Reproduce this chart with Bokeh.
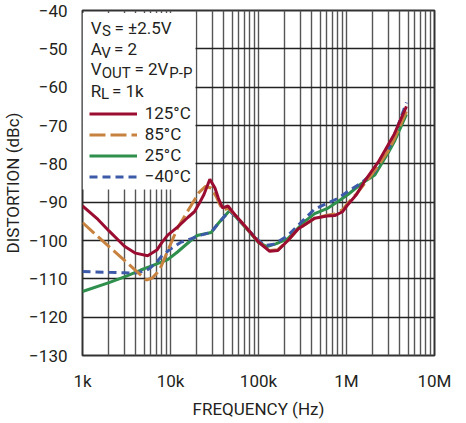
from bokeh.plotting import figure
from bokeh.models import FixedTicker, Legend, LegendItem, Label, CustomJSTickFormatter
from bokeh.embed import file_html
from bokeh.resources import INLINE

# ---------------- data ----------------
f_125 = [1e3, 1.5e3, 2e3, 3e3, 4e3, 5.5e3, 7e3, 8e3, 9.3e3, 12e3, 15.7e3, 18.7e3, 21e3, 24e3,
         28e3, 32e3, 35e3, 39e3, 45e3, 55e3, 75e3, 100e3, 134e3, 166e3, 216e3, 282e3, 435e3,
         600e3, 735e3, 900e3, 1.04e6, 1.3e6, 1.6e6, 2.3e6, 3.5e6, 4.8e6]
d_125 = [-91, -94.5, -97.5, -101.5, -103.3, -104, -102.5, -100.5, -98.6, -96.5, -94, -92.5, -90.5,
         -88, -84, -86.3, -89, -91.5, -91, -93.5, -97, -100.4, -102.8, -102.6, -100, -97, -94.2,
         -93.6, -93.5, -92.5, -90.6, -88, -84.6, -79.5, -72.2, -65]

f_85 = [1e3, 1.5e3, 2e3, 3e3, 4e3, 5.3e3, 6.2e3, 7e3, 7.8e3, 9.7e3, 12.1e3, 17e3, 21e3, 25e3,
        29e3, 33e3, 37e3, 41e3, 45e3, 55e3, 75e3, 100e3, 134e3, 166e3, 216e3, 282e3, 435e3,
        600e3, 735e3, 900e3, 1.04e6, 1.3e6, 1.6e6, 2.3e6, 3e6, 3.5e6, 4.8e6]
d_85 = [-95.3, -99, -101.6, -105.2, -107.8, -110.3, -109.8, -108.5, -106.8, -101.7, -96.6, -91,
        -87.5, -85.9, -86.3, -88.5, -91, -92, -91.5, -93.5, -97, -100.4, -102.6, -102.4, -100,
        -97, -94.2, -93.4, -93.1, -92, -90.2, -87.8, -85.2, -80.5, -76.5, -73.5, -66.3]

f_25 = [1e3, 2e3, 3e3, 4.6e3, 6e3, 9.3e3, 12e3, 17e3, 20e3, 29e3, 35e3, 40e3, 47e3, 55e3, 75e3,
        100e3, 125e3, 160e3, 216e3, 335e3, 435e3, 600e3, 800e3, 1.04e6, 1.47e6, 2.1e6, 3e6,
        3.5e6, 4.8e6]
d_25 = [-113.3, -111, -109.5, -107.7, -106.7, -105, -103, -100, -98.7, -97.9, -95.5, -94, -92.2,
        -93.8, -97.2, -100.5, -101.6, -100.8, -99.5, -95, -93, -91.7, -89.8, -88, -85.2, -82.9,
        -77, -74.2, -67.1]

f_m40 = [1e3, 2e3, 3e3, 4e3, 5e3, 5.8e3, 6.85e3, 8e3, 10e3, 13e3, 17e3, 22e3, 29e3, 35e3, 40e3,
         47e3, 55e3, 75e3, 100e3, 120e3, 150e3, 216e3, 335e3, 435e3, 600e3, 800e3, 1.04e6,
         1.47e6, 2.1e6, 3e6, 3.5e6, 4.8e6]
d_m40 = [-108.1, -108.3, -108.4, -108.5, -108.0, -107.3, -105.8, -104, -102.2, -100.5, -99.6,
         -98.6, -97.9, -95.5, -94, -92.2, -93.8, -97, -100, -101.3, -101, -98.7, -94.3, -91.8,
         -90.3, -89, -87.2, -85, -82, -76, -72.5, -64]

series_labels = ["125°C", "85°C", "25°C", "\u221240°C"]

x_ticks = [1e3, 1e4, 1e5, 1e6, 1e7]
x_tick_labels = ["1k", "10k", "100k", "1M", "10M"]
y_ticks = [-130, -120, -110, -100, -90, -80, -70, -60, -50, -40]

# ---------------- style / layout ----------------
FONT = "Roboto"
TXT = "#231f20"
C125, C85, C25, CM40 = "#9b0d30", "#c8823f", "#2f8f4c", "#3d5aa8"
FW, FH = 352, 345
TOP = 10                       # frame top in canvas px
X0, X1, Y0, Y1 = 1e3, 1e7, -130, -40

p = figure(x_axis_type="log", x_range=(X0, X1), y_range=(Y0, Y1),
           frame_width=FW, frame_height=FH, output_backend="svg", toolbar_location=None,
           min_border_left=77, min_border_top=TOP, min_border_right=18, min_border_bottom=5,
           background_fill_color="white", border_fill_color="white")

minor = [k * 10 ** d for d in range(3, 7) for k in range(2, 10)]
xticker = FixedTicker(ticks=x_ticks, minor_ticks=minor)
p.xaxis.ticker = xticker
p.xgrid.ticker = xticker
p.xaxis.formatter = CustomJSTickFormatter(
    args=dict(vals=x_ticks, labels=x_tick_labels),
    code="""
    for (let i = 0; i < vals.length; i++) {
        if (Math.abs(Math.log10(tick) - Math.log10(vals[i])) < 1e-6) return labels[i];
    }
    return "";
    """)
yticker = FixedTicker(ticks=y_ticks)
p.yaxis.ticker = yticker
p.ygrid.ticker = yticker
p.yaxis.formatter = CustomJSTickFormatter(
    code="return tick < 0 ? '\\u2212' + Math.abs(tick) : String(tick);")

p.xgrid.grid_line_color = "#555555"
p.xgrid.grid_line_width = 1.4
p.xgrid.minor_grid_line_color = "#555555"
p.xgrid.minor_grid_line_width = 1.4
p.ygrid.grid_line_color = "#222222"
p.ygrid.grid_line_width = 1.3

p.outline_line_color = "#333333"
p.outline_line_width = 2
p.outline_line_alpha = 1

for ax in (p.xaxis[0], p.yaxis[0]):
    ax.axis_line_color = None
    ax.major_tick_line_color = None
    ax.minor_tick_line_color = None
    ax.major_label_text_font = FONT
    ax.major_label_text_font_size = "17px"
    ax.major_label_text_color = TXT
    ax.axis_label_text_font = FONT
    ax.axis_label_text_font_size = "17px"
    ax.axis_label_text_font_style = "normal"
    ax.axis_label_text_color = TXT
    ax.major_label_standoff = 9

p.xaxis.axis_label = "FREQUENCY (Hz)"
p.xaxis.axis_label_standoff = 5
p.yaxis.axis_label = "DISTORTION (dBc)"
p.yaxis.axis_label_standoff = 3

# page y of frame top = 8 (page margin) + TOP; positions below are measured on the page
FT_PAGE = 8 + TOP


def dx2x(dx):
    return X0 * (X1 / X0) ** (dx / FW)


def py2y(py):
    return Y1 - (py - FT_PAGE) * (Y1 - Y0) / FH


# white panel behind the conditions / legend (hides the grid there)
p.quad(left=[dx2x(0)], right=[dx2x(113)], top=[py2y(FT_PAGE + 2.5)], bottom=[py2y(197)],
       fill_color="white", line_color=None)

r25 = p.line(f_25, d_25, line_color=C25, line_width=3)
r40 = p.line(f_m40, d_m40, line_color=CM40, line_width=3, line_dash="8 5")
r85 = p.line(f_85, d_85, line_color=C85, line_width=3, line_dash="16 5")
r125 = p.line(f_125, d_125, line_color=C125, line_width=3)

ROW_H = 21
first_row_center_page = 121
legend_bottom_page = first_row_center_page - ROW_H / 2 + 4 * ROW_H
legend = Legend(
    items=[LegendItem(label=series_labels[0], renderers=[r125]),
           LegendItem(label=series_labels[1], renderers=[r85]),
           LegendItem(label=series_labels[2], renderers=[r25]),
           LegendItem(label=series_labels[3], renderers=[r40])],
    location=(6.7, FH - (legend_bottom_page - FT_PAGE)), orientation="vertical",
    glyph_width=48, glyph_height=ROW_H, label_height=ROW_H, label_width=40, spacing=0,
    padding=0, margin=0, label_standoff=8,
    label_text_font=FONT, label_text_font_size="17px", label_text_color=TXT,
    background_fill_alpha=0, border_line_color=None)
p.add_layout(legend)

# conditions text with subscripts: (text, dx from frame left, page baseline y, size)
cond = [
    ("V", 8.3, 35.0, "17px"), ("S", 19.4, 38.3, "15px"), ("= \u00b12.5V", 32.0, 35.0, "17px"),
    ("A", 8.3, 56.7, "17px"), ("V", 18.8, 60.0, "15px"), ("= 2", 31.5, 56.7, "17px"),
    ("V", 8.3, 76.7, "17px"), ("OUT", 19.2, 80.0, "15px"), ("= 2V", 52.0, 76.7, "17px"),
    ("P-P", 86.8, 80.0, "15px"),
    ("R", 8.3, 98.3, "17px"), ("L", 18.5, 101.5, "15px"), ("= 1k", 29.5, 98.3, "17px"),
]
for t, dx, py, fs in cond:
    p.add_layout(Label(x=dx2x(dx), y=py2y(py), text=t, text_font=FONT, text_font_size=fs,
                       text_color=TXT, text_align="left", text_baseline="alphabetic"))

open("out.html", "w").write(file_html(p, INLINE))
